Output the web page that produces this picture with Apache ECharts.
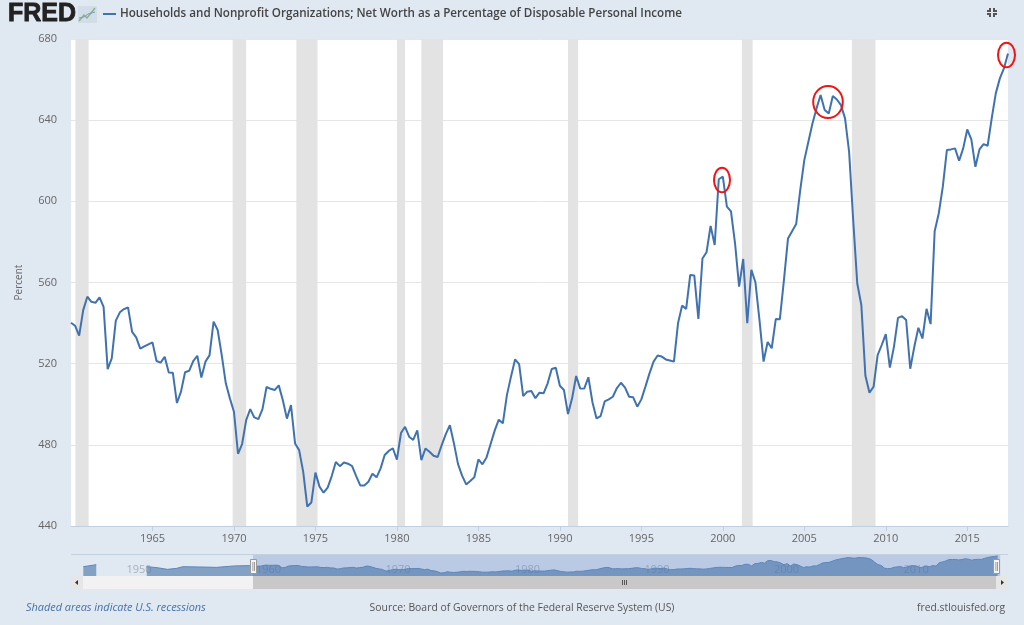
<!DOCTYPE html>
<html><head><meta charset="utf-8">
<style>html,body{margin:0;padding:0;background:#e0e8f2}#c{width:1024px;height:625px}</style>
<script src="https://cdn.jsdelivr.net/npm/echarts@6/dist/echarts.min.js"></script>
</head><body><div id="c"></div>
<script>
const startYear = 1960;
const seriesName = 'Households and Nonprofit Organizations; Net Worth as a Percentage of Disposable Personal Income';
const netWorth = [
540.2,538.7,533.8,546.4,553,550.5,550,552.7,548,517.3,
522.6,541.2,545.3,546.9,547.7,535.7,533,527.4,528.5,529.5,
530.5,521.3,520.5,523.4,515.7,515.5,500.6,506.2,515.8,516.5,
521.3,523.9,513.2,521,524.1,540.7,536.6,524.2,510.3,502.9,
496.3,475.6,480.4,492.2,497.6,493.5,492.7,497.6,508.5,507.6,
507,509.3,502,492.9,499.6,480.7,477.4,466.7,449.6,451.6,
466.3,459.4,456.4,458.9,464.6,471.5,469.5,471.3,470.7,469.5,
464.6,460,460,461.8,465.8,464,468.4,475,477,478.3,
472.7,485.8,488.9,484,482.4,487.1,472.5,478.2,476.6,474.6,
474,479.9,485.3,489.7,480.7,470.5,464.8,460.5,462.2,464,
472.8,470.4,473.8,480.4,487,492.4,490.6,504.5,513.6,522.1,
519.8,504,506.2,506.5,503,505.7,505.4,510.3,517.4,518,
509.1,507,495.2,502.9,513.9,507.7,507.8,513.3,501,493,
494.2,501.4,502.4,503.7,508,510.6,508.2,503.7,503.4,498.8,
502.4,508.7,515.2,521,524,523.5,522.1,521.6,521,539.9,
548.6,547,563.7,563.4,542,571.8,574.9,587.9,578.5,610.9,
612.2,597.4,595,579.3,558,571.6,539.9,566.2,560.1,541.5,
521,530.7,527.6,542,541.9,561.2,581.7,585.3,588.8,605.5,
620.3,629.4,638.4,645.8,652.4,645,643.3,651.9,650.2,647.4,
640.9,624.4,590.8,559.5,548.9,514,505.7,508.6,524.2,529.2,
534.6,518.1,528.3,542.6,543.4,541.5,517.5,528.3,537.7,532.4,
547,539.5,585.3,594,607.2,625.3,625.6,626.1,620,626.1,
635.4,630.5,617,625.6,628.2,627.4,640.9,653.2,660.6,665.5,672.9
];
const quarters = netWorth.map((_, i) => startYear + i / 4);
const recessionStart = [1960.27,1969.92,1973.83,1980.0,1981.5,1990.5,2001.17,2007.92];
const recessionEnd   = [1961.08,1970.75,1975.13,1980.5,1982.83,1991.12,2001.83,2009.37];
const yearTicks = [1965,1970,1975,1980,1985,1990,1995,2000,2005,2010,2015];
const navYearTicks = [1950,1960,1970,1980,1990,2000,2010];
const navEarlyYears  = [1946.9,1947.9,1949,1951.8,1952.6,1953.4,1954.1,1954.6,1955.9,1957.2,1958.5,1959.75];
const navEarlyValues = [532,558,null,532,519,497,510,532,528,523,541,546];

const FONT = '"Open Sans", "DejaVu Sans", sans-serif';
const mainData = quarters.map((q, i) => [q, netWorth[i]]);
const navData = navEarlyYears.map((y, i) => [y, navEarlyValues[i]]).concat(mainData);

function corner(pts){ return {type:'polyline', z:20, shape:{points:pts}, style:{stroke:'#555', lineWidth:2, fill:null}}; }
function rect(x,y,w,h,fill,stroke){ return {type:'rect', z:20, shape:{x,y,width:w,height:h}, style:{fill, stroke:stroke||null, lineWidth:stroke?1:0}}; }
function ring(cx,cy,rx,ry){ return {type:'ellipse', z:30, shape:{cx,cy,rx,ry}, style:{fill:null, stroke:'#f01414', lineWidth:2}}; }
function txt(x,y,text,size,color,extra){ return {type:'text', z:20, x, y, style:Object.assign({text, font:size+'px '+FONT, fill:color, textVerticalAlign:'middle'}, extra||{})}; }

const chart = echarts.init(document.getElementById('c'), null, {renderer:'canvas'});
chart.setOption({
  animation:false,
  backgroundColor:'#e0e8f2',
  grid:[
    {left:71, right:16, top:39, bottom:99, show:true, backgroundColor:'#fff', borderWidth:0},
    {left:71, right:16, top:554, height:22, show:false}
  ],
  xAxis:[
    {type:'value', gridIndex:0, min:1960, max:2017.5, splitLine:{show:false},
     axisLine:{show:true, lineStyle:{color:'#c0d0e0'}},
     axisTick:{show:true, length:5, customValues:yearTicks, lineStyle:{color:'#c0d0e0'}},
     axisLabel:{customValues:yearTicks, formatter:v=>String(v), color:'#666', fontSize:11, fontFamily:FONT, margin:7}},
    {type:'value', gridIndex:1, min:1945.95, max:2018.3, splitLine:{show:false},
     axisLine:{show:false}, axisTick:{show:false},
     axisLabel:{inside:true, customValues:navYearTicks, formatter:v=>String(v), color:'#a9b1bc', fontSize:11, fontFamily:FONT, margin:1, align:'left', padding:[0,0,0,3]}}
  ],
  yAxis:[
    {type:'value', gridIndex:0, min:440, max:680, interval:40, name:'Percent', nameLocation:'middle', nameGap:47,
     nameTextStyle:{color:'#666', fontSize:10, fontFamily:FONT},
     axisLine:{show:false}, axisTick:{show:false},
     axisLabel:{color:'#666', fontSize:11, fontFamily:FONT, margin:14},
     splitLine:{show:true, lineStyle:{color:'#e6e6e6', width:1}}},
    {type:'value', gridIndex:1, min:410, max:698, show:false, splitLine:{show:false}}
  ],
  series:[
    {type:'line', name:'Recessions', xAxisIndex:0, yAxisIndex:0, data:[], z:1, silent:true,
     markArea:{silent:true, itemStyle:{color:'#e3e3e3'},
       data:recessionStart.map((s,i)=>[{xAxis:s},{xAxis:recessionEnd[i]}])}},
    {type:'line', name:seriesName, xAxisIndex:0, yAxisIndex:0, data:mainData, z:5, showSymbol:false,
     lineStyle:{color:'#4072af', width:2}, itemStyle:{color:'#4072af'}},
    {type:'line', name:'Navigator', xAxisIndex:1, yAxisIndex:1, data:navData, z:3, showSymbol:false, silent:true,
     connectNulls:false, lineStyle:{color:'#5f86b9', width:1}, areaStyle:{color:'#4572a7', opacity:0.6},
     markArea:{silent:true, itemStyle:{color:'rgba(102,133,194,0.3)'},
       data:[[{xAxis:1960, yAxis:410},{xAxis:2017.7, yAxis:698}]]}}
  ],
  graphic:[
    // header
    {type:'text', z:20, x:8, y:14, style:{text:'FRED', font:'bold 25px "Liberation Sans", Arial, sans-serif', fill:'#222', stroke:'#222', lineWidth:0.8, textVerticalAlign:'middle'}},
    rect(78,6,19,17,'#d3dde8'),
    {type:'polyline', z:21, shape:{points:[[79,21],[84,15],[87,18],[95,8]]}, style:{stroke:'#8fb08a', lineWidth:1.5, fill:null}},
    {type:'polyline', z:21, shape:{points:[[79,18],[84,17],[88,14],[95,12]]}, style:{stroke:'#7c9cc4', lineWidth:1, fill:null}},
    {type:'line', z:20, shape:{x1:103,y1:14,x2:116,y2:14}, style:{stroke:'#4072af', lineWidth:2}},
    txt(120,14,seriesName,11.65,'#444',{font:'600 11.65px '+FONT}),
    corner([[987,11],[990,11],[990,8]]), corner([[997,11],[994,11],[994,8]]),
    corner([[987,14],[990,14],[990,17]]), corner([[997,14],[994,14],[994,17]]),
    // navigator and scrollbar
    {type:'line', z:20, shape:{x1:71,y1:554.5,x2:1008,y2:554.5}, style:{stroke:'#c5d0de', lineWidth:1}},
    rect(83,576,170,13,'#f2f2f2'),
    rect(253,576,743,13,'#c8c8c8'),
    rect(71,576,12,13,'#e6e6e6'),
    rect(996,576,12,13,'#e6e6e6'),
    {type:'polygon', z:21, shape:{points:[[75,582.5],[78,580],[78,585]]}, style:{fill:'#333'}},
    {type:'polygon', z:21, shape:{points:[[1004,582.5],[1001,580],[1001,585]]}, style:{fill:'#333'}},
    rect(622,580,1,5,'#555'), rect(624,580,1,5,'#555'), rect(626,580,1,5,'#555'),
    rect(250.5,559.5,6,14,'#f4f4f4','#999'),
    rect(993.5,559.5,6,14,'#f4f4f4','#999'),
    rect(252.5,562,.8,9,'#888'), rect(254,562,.8,9,'#888'),
    rect(995.5,562,.8,9,'#888'), rect(997,562,.8,9,'#888'),
    // annotations
    ring(722,180,8,12.3), ring(828,102,14.8,16), ring(1006.5,55,8.5,12.3),
    // footer
    txt(26,608,'Shaded areas indicate U.S. recessions',10.9,'#4572a7',{font:'italic 10.9px '+FONT}),
    txt(522,608,'Source: Board of Governors of the Federal Reserve System (US)',10.4,'#555',{textAlign:'center'}),
    txt(1005,608,'fred.stlouisfed.org',10.3,'#555',{textAlign:'right'})
  ]
});
</script></body></html>
